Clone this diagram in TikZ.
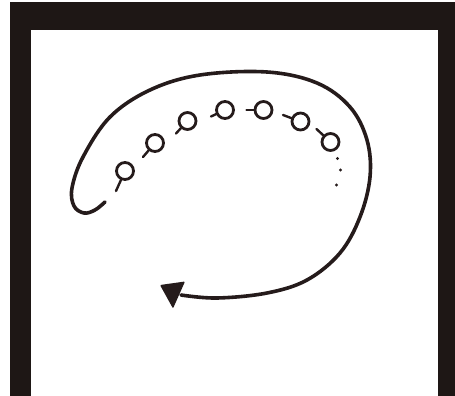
\documentclass[tikz,border=0pt]{standalone}
\usetikzlibrary{calc}
\definecolor{frameblack}{HTML}{1E1715}
\definecolor{ink}{HTML}{251B1B}
\begin{document}
\begin{tikzpicture}[x=1pt,y=-1pt,
  bead/.style={circle,draw=ink,line width=2.8pt,minimum size=17pt,inner sep=0pt},
  stalk/.style={draw=ink,line width=2.4pt,line cap=round},
  loopline/.style={draw=ink,line width=3.6pt,line cap=round},
  dotmark/.style={circle,fill=ink,inner sep=0pt,minimum size=3.2pt}]
\useasboundingbox (0,0) rectangle (455,396);
% frame
\fill[white] (0,0) rectangle (455,396);
\fill[frameblack] (10,2) rectangle (455,396);
\fill[white] (30.5,30) rectangle (437.5,396);
% big loop
\draw[loopline] plot[smooth,tension=0.6] coordinates {(105,202) (95,210) (84,213) (74,206) (72,188) (83,157) (110,117) (150,90) (200,75) (267,72) (317,83) (350,107) (367,140) (370,177) (360,217) (340,253) (307,280) (267,293) (217,298) (181,295)};
\fill[ink,rounded corners=1pt] (160,285) -- (185,281.5) -- (173,308.5) -- cycle;
% beads
\node[bead] (c1) at (125,171) {};
\node[bead] (c2) at (155,143) {};
\node[bead] (c3) at (187.5,121) {};
\node[bead] (c4) at (225,110) {};
\node[bead] (c5) at (263.5,110) {};
\node[bead] (c6) at (300.5,121.5) {};
\node[bead] (c7) at (330.5,142) {};
\coordinate (t1) at (116,191);
\coordinate (t2) at (143,157);
\coordinate (t3) at (176,133.5);
\coordinate (t4) at (211,116.5);
\coordinate (t5) at (246.5,110);
\coordinate (t6) at (283,115);
\coordinate (t7) at (316.5,129);
\foreach \i in {1,...,7} {\draw[stalk] (t\i) -- (c\i);}
% continuation dots
\node[dotmark] (d1) at (337.5,158.5) {};
\node[dotmark] (d2) at (340.5,170) {};
\node[dotmark] (d3) at (336.5,185) {};
\end{tikzpicture}
\end{document}
